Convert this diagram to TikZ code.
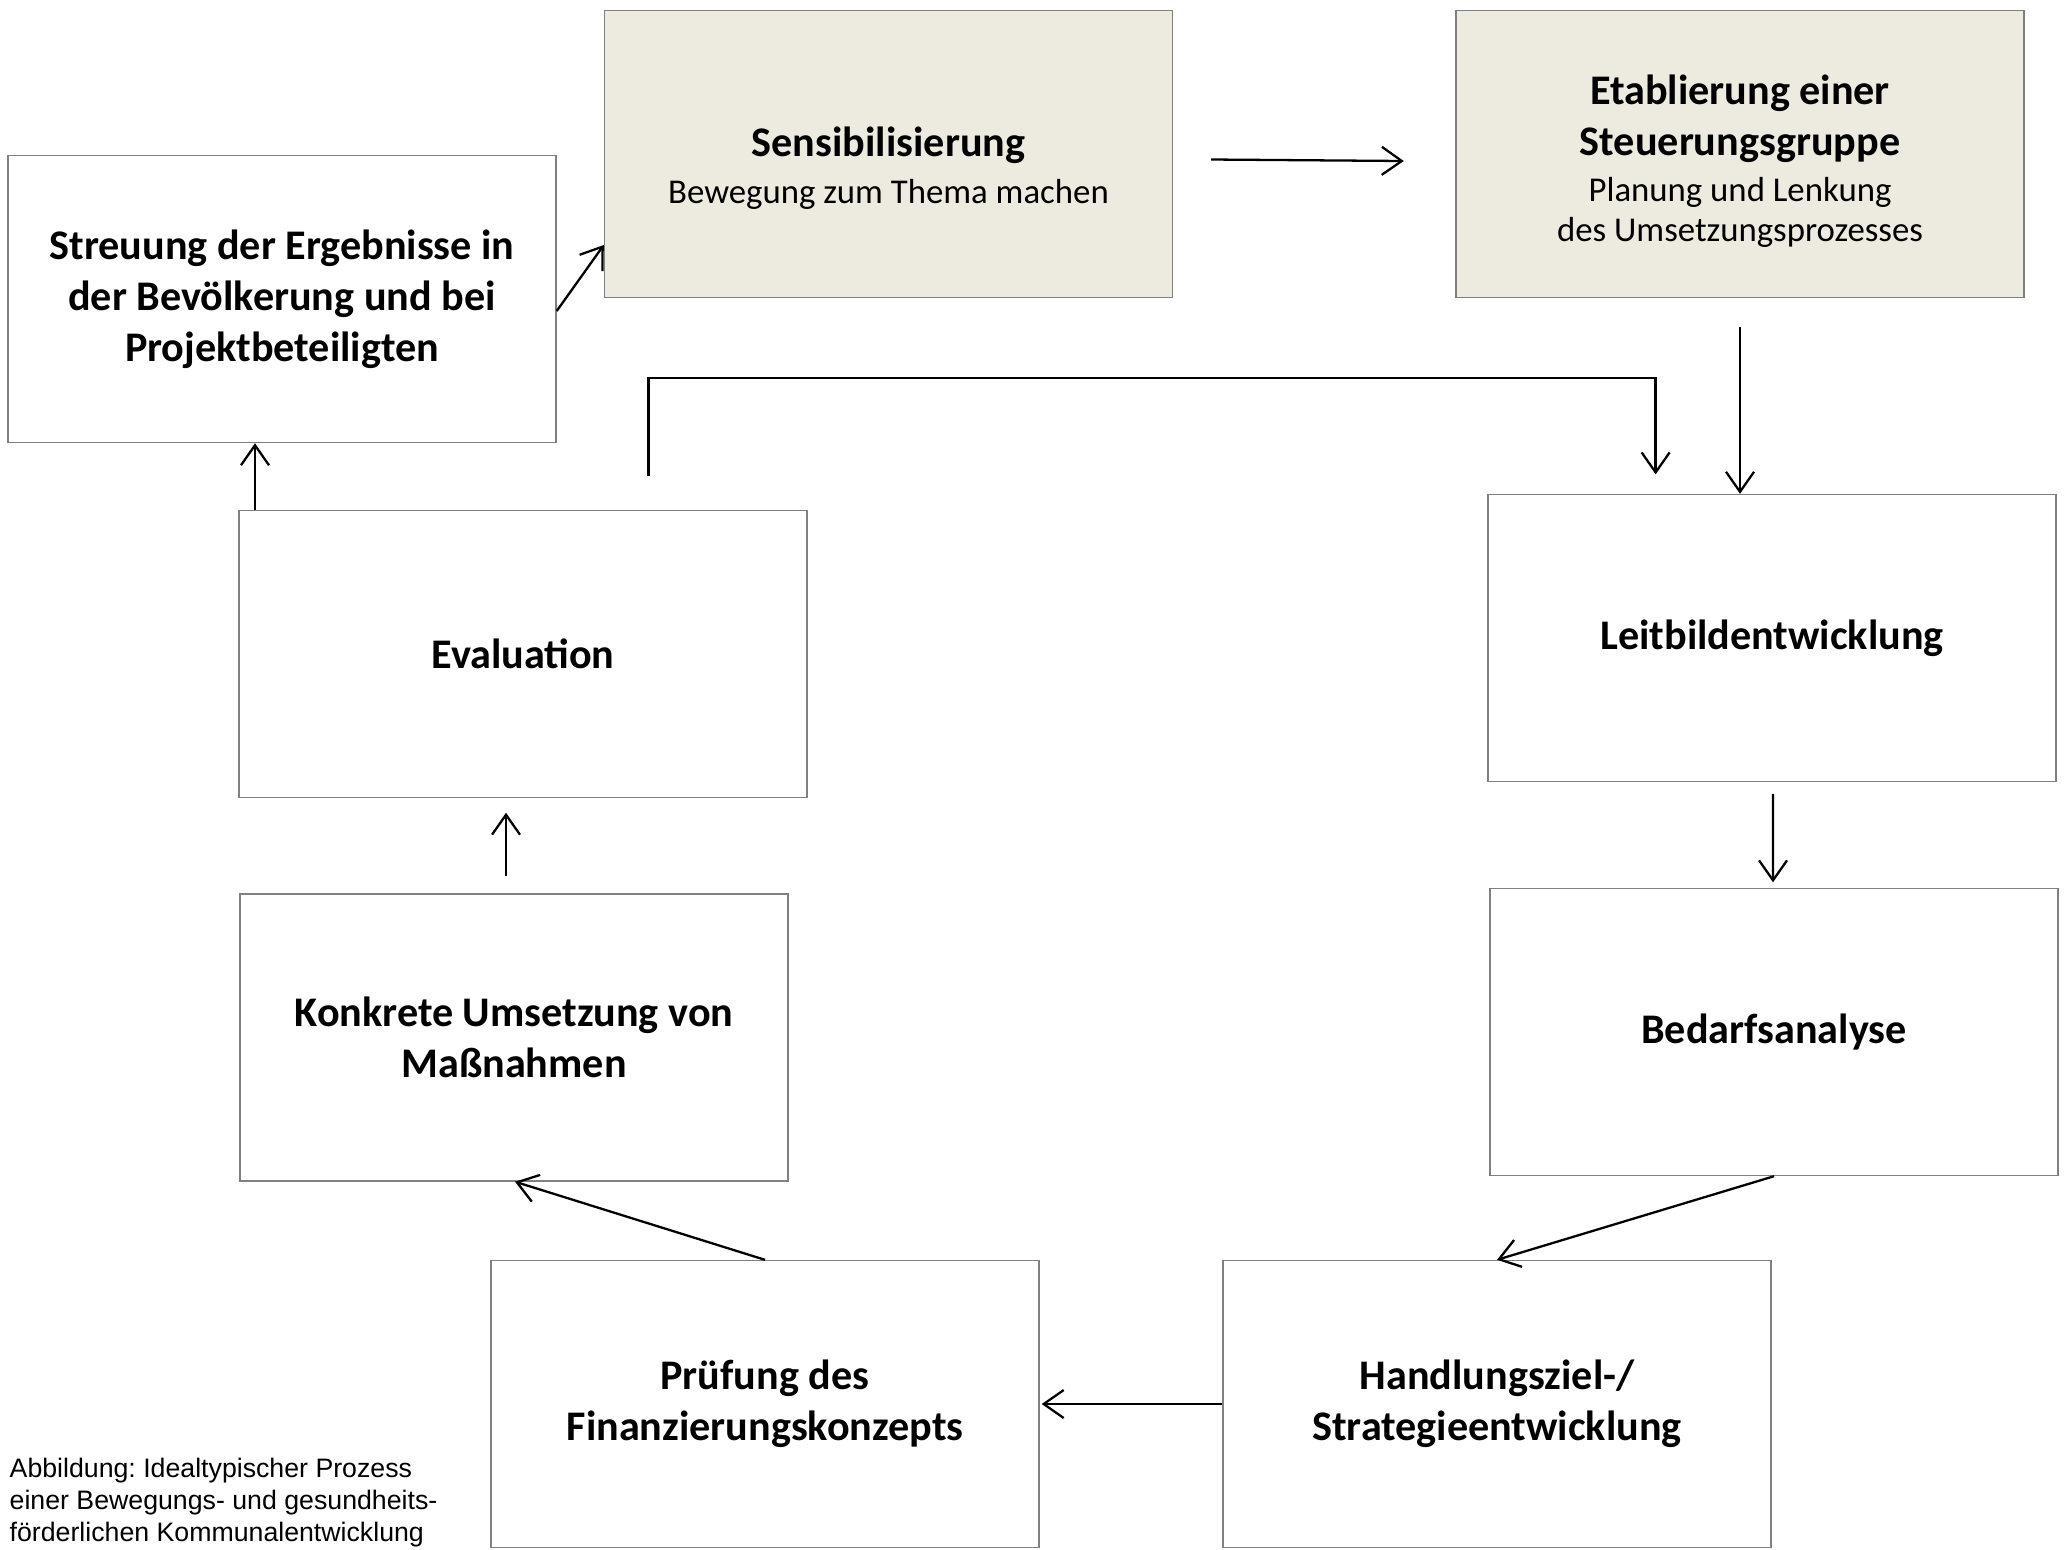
\documentclass[tikz,border=0pt]{standalone}
\usepackage{fontspec}
\setmainfont{Carlito}
\newfontfamily\capfont{Liberation Sans}
\usetikzlibrary{arrows.meta,calc,positioning}

\newcommand{\subtxt}[1]{{\mdseries\fontsize{9.9}{11.9}\selectfont #1}}

\begin{document}
\begin{tikzpicture}[
    x=1cm,
    y=1cm,
    >={Straight Barb[length=2mm,width=2.8mm]},
    stage/.style={
        draw=boxline,
        line width=0.4pt,
        minimum width=5.48cm,
        minimum height=2.87cm,
        inner sep=0pt,
        align=center,
        font=\fontsize{12}{14.5}\selectfont\bfseries
    },
    widestage/.style={stage, minimum width=5.68cm},
    keystage/.style={widestage, fill=keyfill},
    flow/.style={draw=black, line width=0.65pt, ->}
]

\definecolor{keyfill}{RGB}{237,235,224}
\definecolor{boxline}{RGB}{128,128,128}

\path[use as bounding box] (0,0) rectangle (20.67,-15.49);

% Process stages.
\node[stage] (streu) at (2.82,-2.99)
    {Streuung der Ergebnisse in\\der Bevölkerung und bei\\Projektbeteiligten};
\node[keystage] (sensib) at (8.885,-1.54)
    {\rule{0pt}{0pt}\\[2pt]Sensibilisierung\\[-1pt]\subtxt{Bewegung zum Thema machen}};
\node[keystage] (etab) at (17.40,-1.54)
    {\rule{0pt}{0pt}\\[-2pt]Etablierung einer\\Steuerungsgruppe\\[-1.5pt]\subtxt{Planung und Lenkung}\\[-3pt]\subtxt{des Umsetzungsprozesses}};
\node[widestage] (leit) at (17.72,-6.38) {Leitbildentwicklung};
\node[widestage] (bedarf) at (17.74,-10.32) {Bedarfsanalyse};
\node[stage] (handl) at (14.97,-14.04) {Handlungsziel-/\\Strategieentwicklung};
\node[stage] (pruef) at (7.65,-14.04) {Prüfung des\\Finanzierungskonzepts};
\node[stage] (konkr) at (5.14,-10.375) {Konkrete Umsetzung von\\Maßnahmen};
\node[widestage] (eval) at (5.23,-6.54) {Evaluation};

% Connectors round the cycle.
\draw[flow] ($(streu.east)+(0,-0.12)$) -- ($(sensib.west)+(0,-0.91)$);
\draw[flow] ($(sensib.east)+(0.38,-0.055)$) -- ($(etab.west)+(-0.515,-0.07)$);
\draw[flow] ($(etab.south)+(0,-0.29)$) -- (etab.south |- leit.north);
\draw[flow] ($(eval.north)+(1.256,0.34)$) -- ++(0,0.98)
    -| ($(leit.north)+(-1.164,0.194)$);
\draw[flow] ($(leit.south)+(0.01,-0.116)$) -- ($(bedarf.north)+(-0.01,0.055)$);
\draw[flow] (bedarf.south) -- (handl.north);
\draw[flow] (handl.west) -- ($(pruef.east)+(0.02,0)$);
\draw[flow] (pruef.north) -- ($(konkr.south)+(0.01,0)$);
\draw[flow] ($(konkr.north)+(-0.08,0.174)$) -- ($(eval.south)+(-0.17,-0.145)$);
\coordinate (evalout) at ($(eval.north west)+(0.167,0)$);
\draw[flow] (evalout) -- (evalout |- streu.south);

% Caption.
\node[anchor=north west, align=left, inner sep=0pt,
      font=\capfont\fontsize{7.6}{9.1}\selectfont\frenchspacing] (caption) at (0.09,-14.57)
    {Abbildung: Idealtypischer Prozess\\einer Bewegungs- und gesundheits-\\förderlichen Kommunalentwicklung};

\end{tikzpicture}
\end{document}
